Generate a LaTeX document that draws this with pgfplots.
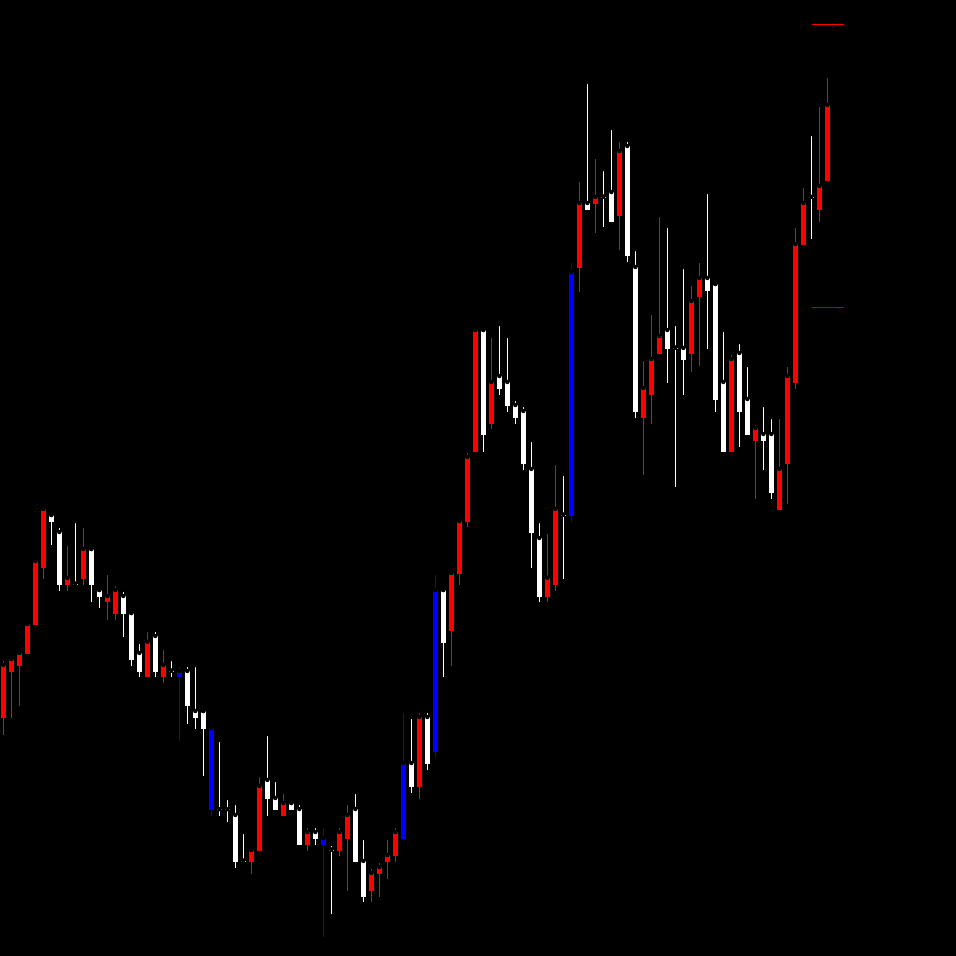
\documentclass[border=0pt]{standalone}
\usepackage{pgfplots}
\usepackage{pgfplotstable}
\pgfplotsset{compat=1.18}
% columns: k = candle index, bt/bb = body top/bottom, wt/wb = wick top/bottom (chart rows, downward)
\pgfplotstableread{
k bt bb wt wb
0 665 717.7 659 735
1 659 671.7 659 717.7
2 653 665.7 653 705.7
3 624 653.7 624 653.7
4 561 625 561 625
5 509 567.7 509 579
8 578 585 544 590.7
10 549 579 526 585
13 596 602 573 619.7
14 590 613.7 584 619.7
18 641.7 676.7 630 676.7
20 665 676.7 648 682.7
31 850 861.7 850 873.7
32 786 850.7 775 850.7
35 803 815.7 792 815.7
38 832 845 826 851
42 832 851 826 856
43 815 839 803 890.7
46 873 891 867 902
47 867 874 861 897
48 855 862 838 879
49 832 856 826 862
52 717 787 711 799
56 573 631 573 666
57 521 573.7 521 585
58 457 521.7 451 527
59 330 451.7 330 451.7
61 382 423.7 336 428.7
68 577.7 596.7 532 601.7
69 509 584.7 463 590.7
72 203 267.7 180 292
74 197 203.7 157 232.7
77 151 215.7 140 249.7
80 388 417.7 359 474.7
81 359 394.7 313 423.7
82 336 353.7 215 353.7
86 301 353.7 284 371.7
87 278 296.7 261 365.7
91 359 451.7 353 451.7
94 428 440.7 423 498.7
97 469 510 417 510
98 376 463.7 365 503.7
99 244 383 226 388.7
100 203 245 186 245
102 186 209.7 105 221.7
103 105 181 76 181
}\redtab
\pgfplotstableread{
k bt bb wt wb
6 515 521.7 515 545
7 532 585 526 590.7
9 583.6 584.6 521 584.6
11 549 585 549 601.7
12 590 597 590 607.7
15 596 613.7 590 636.7
16 613 659.7 613 665.7
17 653 671.7 642 676.7
19 636 671.7 630 676.7
21 670.6 671.6 659 676.7
23 671 705.7 665 723.7
24 711 717.7 665 728.7
25 711 729 711 775.7
27 809.2 810.2 740 815.7
28 809.2 810.2 798 821.7
29 815 861.7 803 867.7
30 860.6 861.6 832 861.7
33 780 798.7 734 815.7
34 798 809.7 780 809.7
36 803 809.7 803 809.7
37 809 845 803 845
39 832 839 826 845
41 849.6 850.6 844 914
44 809 862 792 862
45 861 897 838 902
51 763 787 717 793
53 717 763.7 711 769.7
55 590 643 590 677
60 330 435 330 451.7
62 376 388.7 324 394.7
63 382 405.7 336 411.7
64 405 417.7 399 423.7
65 411 463.7 405 469.7
66 469 532.7 440 567.7
67 538 596.7 521 601.7
70 514.6 515.6 474 578.7
73 203 209.7 82 209.7
75 196.6 197.6 169 226.7
76 192 221.7 128 221.7
78 146 255.7 140 261.7
79 267 411.7 249 417.7
83 330 348.7 226 382.7
84 347.6 348.6 324 486.7
85 348 359.7 267 394.7
88 278 290.7 192 348.7
89 284 399.7 284 411.7
90 382 451.7 330 451.7
92 353 411.7 342 446.7
93 399 434.7 365 434.7
95 434 440.7 405 469.7
96 434 492.7 417 498.7
101 196.8 197.8 134 239
}\whitetab
\pgfplotstableread{
k bt bb wt wb
22 671 676.7 665 740.7
26 728 809.7 723 815.7
40 838 845 826 936.7
50 763 839 711 839
54 590 751.7 573 757.7
71 272 515.7 261 521.7
}\bluetab
\pgfplotsset{
  wick/.style={only marks, mark=none, forget plot,
    error bars/.cd, y dir=plus, y explicit, error mark=none,
    error bar style={draw=#1, line width=1pt}},
  body/.style={only marks, mark=none, forget plot,
    error bars/.cd, y dir=plus, y explicit, error mark=none,
    error bar style={draw=#1, line width=5pt}},
}
\begin{document}
\begin{tikzpicture}
\begin{axis}[
  scale only axis, width=956pt, height=956pt,
  xmin=-0.4125, xmax=119.0875,
  ymin=0, ymax=956, y dir=reverse,
  axis line style={draw=none}, ticks=none,
  axis background/.style={fill=black},
  clip=true,
]
\addplot[wick=red] table[x=k, y=wt, y error expr=\thisrow{wb}-\thisrow{wt}] {\redtab};
\addplot[body=red] table[x=k, y=bt, y error expr=\thisrow{bb}-\thisrow{bt}] {\redtab};
\addplot[wick=white] table[x=k, y=wt, y error expr=\thisrow{wb}-\thisrow{wt}] {\whitetab};
\addplot[body=white] table[x=k, y=bt, y error expr=\thisrow{bb}-\thisrow{bt}] {\whitetab};
\addplot[wick=blue] table[x=k, y=wt, y error expr=\thisrow{wb}-\thisrow{wt}] {\bluetab};
\addplot[body=blue] table[x=k, y=bt, y error expr=\thisrow{bb}-\thisrow{bt}] {\bluetab};
% price level lines at the right
\addplot[red, line width=1pt, forget plot] coordinates {(101.09,24) (105.09,24)};
\addplot[red!75!black, line width=0.8pt, forget plot] coordinates {(101.09,307) (105.09,307)};
\end{axis}
\end{tikzpicture}
\end{document}
